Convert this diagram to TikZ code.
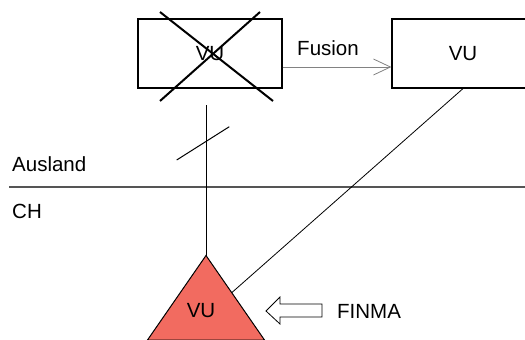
\documentclass[tikz,border=0pt]{standalone}
\usepackage{fontspec}
\setmainfont{Liberation Sans}
\usetikzlibrary{arrows.meta,calc}

\begin{document}
\begin{tikzpicture}[x=1pt,y=-1pt,>=Latex,font=\fontsize{20.5}{24}\selectfont]
\definecolor{cRed}{RGB}{242,107,96}\definecolor{cGrey}{RGB}{85,85,85}\definecolor{cArr}{RGB}{130,130,130}
\tikzset{vubox/.style={draw,line width=1.2pt,minimum height=69pt,inner sep=0pt},
  lbl/.style={inner sep=0pt}}
\useasboundingbox (0,0) rectangle (525,340);
% companies abroad
\node[vubox,minimum width=144pt] (oldvu) at (210,53.5) {VU};
\node[vubox,minimum width=142pt] (newvu) at (463,53.5) {VU};
\draw[line width=2pt] (160,12)--(273,101); \draw[line width=2pt] (260,12)--(160,101);
\node[lbl] (fusion) at (328,48) {Fusion};
\draw[-{Straight Barb[length=17pt,width=16pt]},cArr,line width=0.8pt] ([yshift=-13.5pt]oldvu.east)--([yshift=-13.5pt]newvu.west);
% border
\draw[cGrey,line width=2pt] (9,187)--(525,187);
\node[lbl,anchor=west] (ausland) at (12,164) {Ausland};
\node[lbl,anchor=west] (ch) at (12,211) {CH};
% company in CH
\coordinate (apex) at (206,255.5);
\coordinate (bl) at (147.5,340);\coordinate (br) at (264.5,340);
\draw[fill=cRed,line width=1pt] (apex)--(br)--(bl)--cycle;
\node[lbl] (chvu) at (201,311) {VU};
\coordinate (top) at (206,105);
\coordinate (hit) at ($(apex)!0.44!(br)$);
\draw[line width=1pt] (top)--(apex);
\draw[line width=1pt] (176.7,160)--(229.3,126.7);
\draw[line width=0.8pt] (newvu.south)--(hit);
% supervision
\node[lbl,anchor=west] (finma) at (337,311) {FINMA};
\draw[line width=0.8pt,fill=white] (266,311)--(280,297)--(280,304)--(322,304)--(322,317)--(280,317)--(280,324)--cycle;
\end{tikzpicture}
\end{document}
